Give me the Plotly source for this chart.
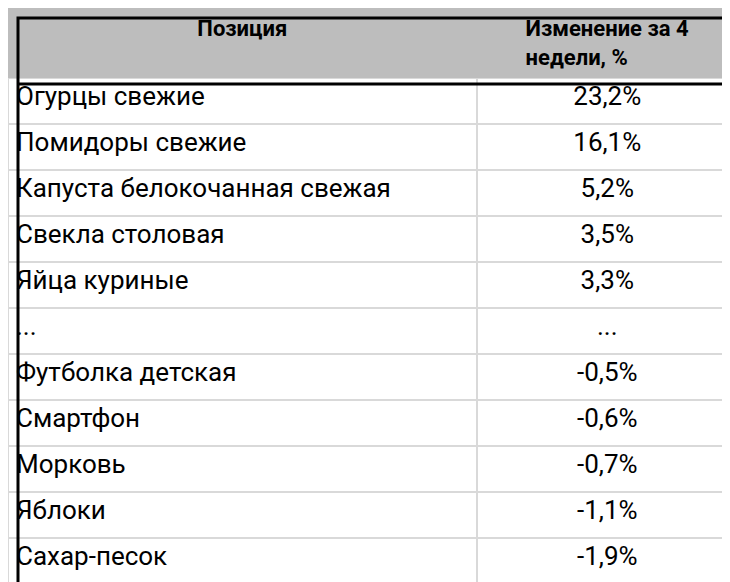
import plotly.graph_objects as go

headers = ["<b>Позиция</b>", "<b>Изменение за 4<br>недели, %</b>"]
items = ["Огурцы свежие", "Помидоры свежие", "Капуста белокочанная свежая", "Свекла столовая",
         "Яйца куриные", "...", "Футболка детская", "Смартфон", "Морковь", "Яблоки", "Сахар-песок"]
changes = ["23,2%", "16,1%", "5,2%", "3,5%", "3,3%", "...", "-0,5%", "-0,6%", "-0,7%", "-1,1%", "-1,9%"]

W, H = 730, 582
fig = go.Figure(go.Table(
    columnwidth=[457, 255],
    header=dict(values=headers, fill_color="#bdbdbd", line=dict(color="#bdbdbd", width=1),
                align="center", height=66,
                font=dict(family="Roboto", size=22, color="black")),
    cells=dict(values=[items, changes], fill_color="white", line=dict(color="#d9d9d9", width=2),
               align=["left", "center"], height=46,
               font=dict(family="Roboto", size=26, color="black")),
    domain=dict(x=[0, 1], y=[0, 1]),
))
L, R, T, B = 10, 722, 10, 581
hy = 1 - 76 / H
fig.update_layout(
    width=W, height=H, margin=dict(l=0, r=0, t=0, b=0), paper_bgcolor="white",
    shapes=[
        dict(type="line", xref="paper", yref="paper", x0=L / W, x1=R / W, y0=hy, y1=hy,
             line=dict(color="black", width=3)),
        dict(type="rect", xref="paper", yref="paper", x0=L / W, x1=R / W, y0=1 - B / H, y1=1 - T / H,
             line=dict(color="black", width=3)),
    ],
)
fig.write_html("out.html")
